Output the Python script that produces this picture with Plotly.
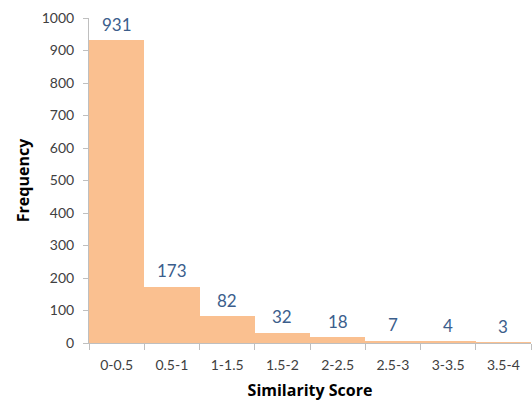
import plotly.graph_objects as go

# Histogram of similarity scores
categories = ["0-0.5", "0.5-1", "1-1.5", "1.5-2", "2-2.5", "2.5-3", "3-3.5", "3.5-4"]
frequency = [931, 173, 82, 32, 18, 7, 4, 3]
y_ticks = [0, 100, 200, 300, 400, 500, 600, 700, 800, 900, 1000]

BAR_COLOR = "#FAC090"
LABEL_COLOR = "#3B5E8C"
TEXT_COLOR = "#404040"
AXIS_COLOR = "#BFBFBF"
FONT = "Lato"
TITLE_FONT = "Open Sans"

fig = go.Figure(
    go.Bar(
        x=categories,
        y=frequency,
        marker=dict(color=BAR_COLOR, line=dict(width=0)),
        hoverinfo="x+y",
    )
)

# value labels sitting above each bar
for cat, val in zip(categories, frequency):
    fig.add_annotation(
        x=cat, y=val, text=str(val), showarrow=False,
        yanchor="middle", yshift=16,
        font=dict(family=FONT, size=17, color=LABEL_COLOR),
    )

fig.update_layout(
    width=532, height=401,
    margin=dict(l=89, r=1, t=18, b=58),
    paper_bgcolor="white", plot_bgcolor="white",
    bargap=0,
    showlegend=False,
    font=dict(family=FONT, color=TEXT_COLOR),
)

fig.update_xaxes(
    type="category",
    tickson="boundaries",
    ticks="outside", ticklen=6, tickcolor=AXIS_COLOR,
    ticklabelstandoff=9,
    showline=True, linecolor=AXIS_COLOR, linewidth=1,
    showgrid=False, zeroline=False,
    tickfont=dict(family=FONT, size=14, color=TEXT_COLOR),
    title=dict(text="<b>Similarity Score</b>", standoff=14,
               font=dict(family=TITLE_FONT, size=16, color="#000000")),
)

fig.update_yaxes(
    range=[0, 1000],
    tickvals=y_ticks,
    ticks="outside", ticklen=5, tickcolor=AXIS_COLOR,
    ticklabelstandoff=6,
    showline=True, linecolor=AXIS_COLOR, linewidth=1,
    showgrid=False, zeroline=False,
    tickfont=dict(family=FONT, size=14, color=TEXT_COLOR),
    title=dict(text="<b>Frequency</b>", standoff=8,
               font=dict(family=TITLE_FONT, size=16, color="#000000")),
)

fig.write_html("out.html")
